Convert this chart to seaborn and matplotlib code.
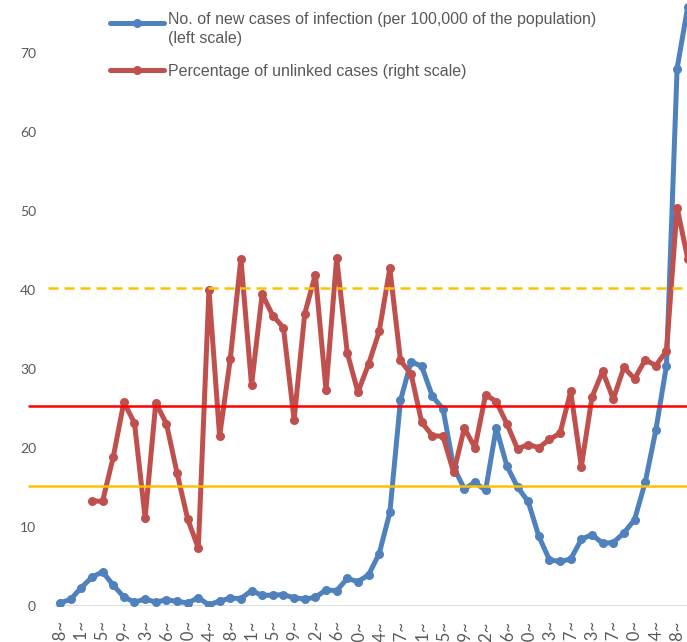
import numpy as np
import pandas as pd
import matplotlib.pyplot as plt
import seaborn as sns
from matplotlib.legend_handler import HandlerLine2D

# weekly periods, tick label on every second week
tick_labels = ['3/28~', '4/11~', '4/25~', '5/9~', '5/23~', '6/6~', '6/20~', '7/4~',
               '7/18~', '8/1~', '8/15~', '8/29~', '9/12~', '9/26~', '10/10~', '10/24~',
               '11/7~', '11/21~', '12/5~', '12/19~', '1/2~', '1/16~', '1/30~', '2/13~',
               '2/27~', '3/13~', '3/27~', '4/10~', '4/24~', '5/8~']

# new cases per 100,000 (left scale)
new_cases = [0.35, 0.8, 2.3, 3.6, 4.3, 2.6, 1.1, 0.45, 0.85, 0.45,
             0.75, 0.55, 0.35, 1.0, 0.1, 0.6, 0.95, 0.9, 1.9, 1.3,
             1.35, 1.4, 1.0, 0.85, 1.05, 2.0, 1.9, 3.45, 3.05, 3.9,
             6.6, 11.8, 26.0, 30.9, 30.3, 26.5, 24.9, 17.5, 14.8, 15.6,
             14.6, 22.5, 17.7, 15.0, 13.2, 8.8, 5.8, 5.6, 5.9, 8.4,
             9.0, 7.9, 8.0, 9.2, 10.9, 15.6, 22.2, 30.4, 68.0, 75.8,
             4.0]

# percentage of unlinked cases (right scale)
unlinked_pct = [np.nan, np.nan, np.nan, 16.6, 16.5, 23.5, 32.2, 28.9, 13.9, 32.1,
                28.8, 21.0, 13.7, 9.1, 50.0, 26.8, 39.0, 54.9, 34.9, 49.3,
                45.9, 44.0, 29.4, 46.2, 52.4, 34.1, 55.0, 40.0, 33.8, 38.2,
                43.4, 53.4, 38.8, 36.6, 29.0, 26.9, 26.8, 21.1, 28.1, 25.0,
                33.4, 32.3, 28.8, 24.8, 25.5, 25.0, 26.3, 27.3, 33.9, 22.0,
                33.0, 37.1, 32.7, 37.7, 35.9, 38.9, 38.0, 40.3, 63.0, 54.9,
                50.0]

# reference lines (left scale)
stage3_level = 15.2
stage4_level = 25.3
unlinked_level = 40.2

blue = '#4F81BD'
red = '#C0504D'
grey = '#595959'


class ShiftedLine(HandlerLine2D):
    # legend handle sitting on the first line of a two-line label
    def __init__(self, dy, **kw):
        super().__init__(**kw)
        self.dy = dy

    def create_artists(self, *args, **kw):
        arts = super().create_artists(*args, **kw)
        for a in arts:
            a.set_ydata(np.asarray(a.get_ydata(), dtype=float) + self.dy)
        return arts


sns.set_theme(style='white')
plt.rcParams['font.family'] = ['Lato', 'DejaVu Sans']

df = pd.DataFrame({'week': np.arange(len(new_cases)),
                   'cases': new_cases,
                   'unlinked': unlinked_pct})

fig = plt.figure(figsize=(6.87, 6.42), dpi=100)
# the chart is cropped on the right and at the top
ax = fig.add_axes([54.7 / 687, 36.3 / 642, 649 / 687, 632 / 642])
ax2 = ax.twinx()

sns.lineplot(data=df, x='week', y='cases', ax=ax, color=blue, lw=3.6,
             marker='o', markersize=6.5, markeredgewidth=0, legend=False,
             label='No. of new cases of infection (per 100,000 of the population)\n(left scale)')
sns.lineplot(data=df.dropna(), x='week', y='unlinked', ax=ax2, color=red, lw=3.6,
             marker='o', markersize=6.5, markeredgewidth=0, legend=False,
             label='Percentage of unlinked cases (right scale)')

n = len(new_cases)
ax.set_xlim(-0.5, n - 0.5)
ax.set_ylim(0, 80)
ax2.set_ylim(0, 100)
ax.set_yticks(range(0, 90, 10))
ax2.set_yticks(range(0, 110, 10))
ax.set_xticks(range(0, 2 * len(tick_labels), 2))
ax.set_xticklabels(tick_labels, rotation=90)

for a in (ax, ax2):
    a.set_xlabel('')
    a.set_ylabel('')
    for s in a.spines.values():
        s.set_visible(False)
    a.tick_params(length=0, labelsize=10, labelcolor=grey)
ax.tick_params(axis='y', pad=13.5)
ax.tick_params(axis='x', pad=10.5, labelsize=12)

ax.axhline(0, color='#D9D9D9', lw=1.3, zorder=1)

# threshold lines, drawn on top and starting left of the plot area
ax2.set_zorder(ax.get_zorder() + 1)
for lvl, col, start, dash in [(stage3_level, '#FFC000', -0.04, None),
                              (stage4_level, '#FF0000', -0.04, None),
                              (unlinked_level, '#FFC000', -0.01, (4, 2.4))]:
    ln = ax2.axhline(lvl * 1.25, xmin=start, xmax=1, color=col, lw=1.8,
                     clip_on=False, zorder=5)
    if dash:
        ln.set_dashes(dash)

handles = [ax.lines[0], ax2.lines[0]]
leg = fig.legend(handles, [h.get_label() for h in handles],
                 loc='upper left', bbox_to_anchor=(110 / 687, 1 - 12 / 642),
                 frameon=False, borderpad=0, borderaxespad=0,
                 handlelength=3.4, handletextpad=0.25, labelspacing=1.15,
                 handler_map={handles[0]: ShiftedLine(4.3)},
                 prop={'family': 'Liberation Sans', 'size': 11.5})
for t in leg.get_texts():
    t.set_color(grey)
    t.set_linespacing(1.3)

fig.savefig('out.png', dpi=100)
